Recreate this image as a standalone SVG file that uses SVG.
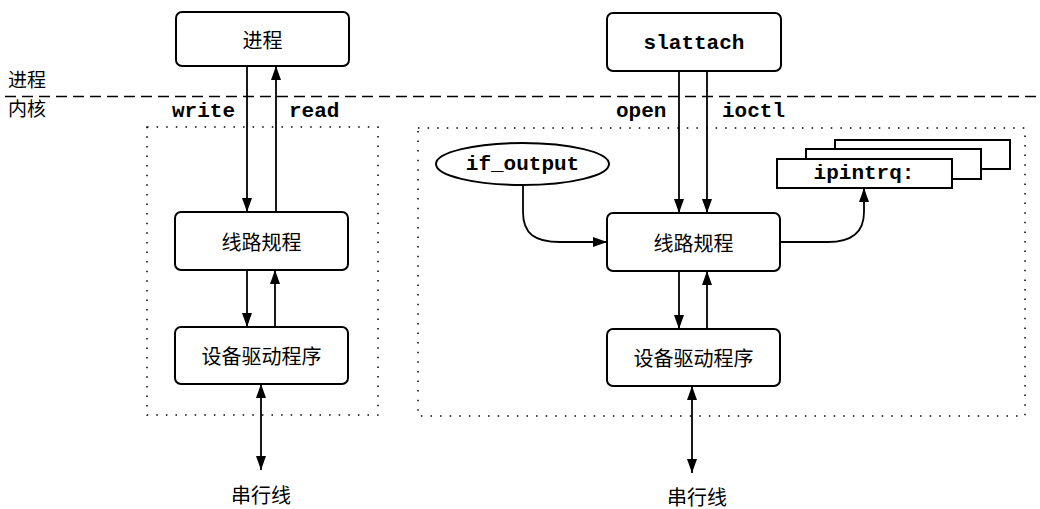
<svg xmlns="http://www.w3.org/2000/svg" width="1040" height="509" viewBox="0 0 1040 509">
<style>
.box{fill:#fff;stroke:#000;stroke-width:2}
.dot{fill:none;stroke:#000;stroke-width:1.5;stroke-dasharray:1.5 8.1}
.cjk{font-family:"Noto Sans CJK SC","Noto Sans",sans-serif;font-size:20px;fill:#000}
.side{font-family:"Noto Sans CJK SC","Noto Sans",sans-serif;font-size:19px;fill:#000}
.mono{font-family:"Liberation Mono","DejaVu Sans Mono",monospace;font-size:21px;font-weight:bold;fill:#000}
.ln{fill:none;stroke:#000;stroke-width:1.8}
.mid{text-anchor:middle;dominant-baseline:central}
</style>
<defs>
<marker id="ah" markerUnits="userSpaceOnUse" markerWidth="14" markerHeight="10" refX="14" refY="5" orient="auto-start-reverse">
<path d="M0,0 L14,5 L0,10 z" fill="#000"/>
</marker>
</defs>
<rect width="1040" height="509" fill="#fff"/>

<g id="boundary">
<line x1="5" y1="96.5" x2="1040" y2="96.5" stroke="#000" stroke-width="1.6" stroke-dasharray="11 6"/>
<text class="side" x="8" y="87">进程</text>
<text class="side" x="8" y="116">内核</text>
</g>

<g id="kernel-left"><rect class="dot" x="147" y="127" width="231" height="288"/></g>
<g id="kernel-right"><rect class="dot" x="418" y="128" width="607" height="288"/></g>

<g id="connectors">
<line class="ln" x1="247" y1="66" x2="247" y2="212" marker-end="url(#ah)"/>
<line class="ln" x1="276" y1="212" x2="276" y2="66" marker-end="url(#ah)"/>
<line class="ln" x1="247" y1="270" x2="247" y2="327" marker-end="url(#ah)"/>
<line class="ln" x1="275" y1="327" x2="275" y2="270" marker-end="url(#ah)"/>
<line class="ln" x1="261" y1="384" x2="261" y2="470" marker-start="url(#ah)" marker-end="url(#ah)"/>
<line class="ln" x1="679" y1="71" x2="679" y2="213" marker-end="url(#ah)"/>
<line class="ln" x1="707" y1="71" x2="707" y2="213" marker-end="url(#ah)"/>
<line class="ln" x1="679" y1="271" x2="679" y2="329" marker-end="url(#ah)"/>
<line class="ln" x1="707" y1="329" x2="707" y2="271" marker-end="url(#ah)"/>
<line class="ln" x1="692" y1="386" x2="692" y2="473" marker-start="url(#ah)" marker-end="url(#ah)"/>
<path class="ln" d="M523,185 V212 C523,234 535,242 560,242 H607" marker-end="url(#ah)"/>
<path class="ln" d="M780,242 H828 C852,242 864,232 864,212 V188" marker-end="url(#ah)"/>
<text class="mono" x="172" y="117">write</text>
<text class="mono" x="289" y="117">read</text>
<text class="mono" x="616" y="117">open</text>
<text class="mono" x="722" y="117">ioctl</text>
</g>

<g id="proc-left">
<rect class="box" x="176" y="12" width="173" height="54" rx="6"/>
<text class="cjk mid" x="262.5" y="39">进程</text>
</g>
<g id="ld-left">
<rect class="box" x="175" y="212" width="173" height="58" rx="6"/>
<text class="cjk mid" x="261.5" y="241">线路规程</text>
</g>
<g id="dd-left">
<rect class="box" x="175" y="327" width="173" height="57" rx="6"/>
<text class="cjk mid" x="261.5" y="355.5">设备驱动程序</text>
</g>
<g id="serial-left"><text class="cjk" x="261" y="503" text-anchor="middle">串行线</text></g>

<g id="slattach">
<rect class="box" x="607" y="13" width="174" height="58" rx="6"/>
<text class="mono" x="694" y="49" text-anchor="middle">slattach</text>
</g>
<g id="if_output">
<ellipse class="box" cx="522.5" cy="164" rx="86.5" ry="21"/>
<text class="mono" x="522.5" y="170" text-anchor="middle">if_output</text>
</g>
<g id="ipintrq">
<rect class="box" x="835" y="140" width="175" height="29"/>
<rect class="box" x="806" y="149" width="175" height="30"/>
<rect class="box" x="777" y="159" width="175" height="29"/>
<text class="mono" x="864" y="179" text-anchor="middle">ipintrq:</text>
</g>
<g id="ld-right">
<rect class="box" x="607" y="213" width="173" height="58" rx="6"/>
<text class="cjk mid" x="693.5" y="242">线路规程</text>
</g>
<g id="dd-right">
<rect class="box" x="607" y="329" width="173" height="57" rx="6"/>
<text class="cjk mid" x="693.5" y="357.5">设备驱动程序</text>
</g>
<g id="serial-right"><text class="cjk" x="697" y="505" text-anchor="middle">串行线</text></g>
</svg>
